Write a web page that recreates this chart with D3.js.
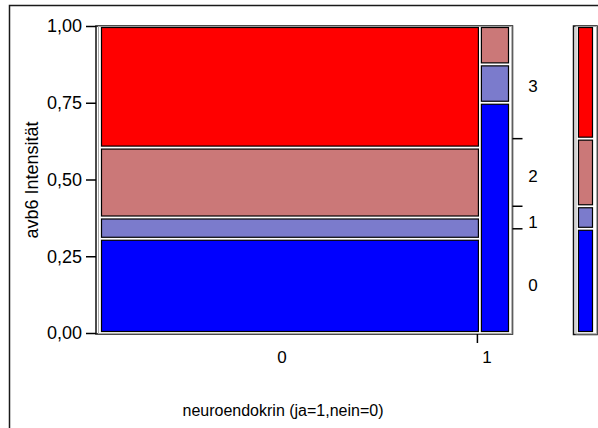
<!DOCTYPE html>
<html>
<head>
<meta charset="utf-8">
<script src="https://cdn.jsdelivr.net/npm/d3@7"></script>
<style>
  html, body { margin: 0; padding: 0; background: #fff; }
  svg { display: block; font-family: "Liberation Sans", Arial, sans-serif; }
</style>
</head>
<body>
<svg id="chart" width="598" height="428"></svg>
<script>
// Mosaic of avb6 intensity (0..3) by neuroendocrine status (0 = nein, 1 = ja)
const groups = ["0", "1"];
const levels = ["0", "1", "2", "3"];
const levelColors = ["#0000FF", "#7B7BCC", "#CB7878", "#FF0000"];
const countsGroup0 = [31, 7, 23, 40];
const countsGroup1 = [6, 1, 1, 0];
const yTicks = [0, 0.25, 0.5, 0.75, 1];
const yTickLabels = ["0,00", "0,25", "0,50", "0,75", "1,00"];
const xTitle = "neuroendokrin (ja=1,nein=0)";
const yTitle = "avb6 Intensität";

const counts = [countsGroup0, countsGroup1];
const svg = d3.select("#chart");

// page frame
svg.append("rect").attr("x", 9.5).attr("y", 5.5).attr("width", 640).attr("height", 460)
  .attr("fill", "none").attr("stroke", "#1a1a1a").attr("stroke-width", 1.5);

const plot = { left: 96, right: 512.5, top: 26, bottom: 334 };
const gap = 1.5;

const totals = counts.map(c => d3.sum(c));
const grand = d3.sum(totals);
const cumX = [0];
totals.forEach((t, i) => cumX.push(cumX[i] + t / grand));

const x = d3.scaleLinear().domain([0, 1]).range([100, 510]);
const y = d3.scaleLinear().domain([0, 1]).range([333, 26]);

// mosaic frame
svg.append("rect").attr("x", plot.left).attr("y", plot.top)
  .attr("width", plot.right - plot.left).attr("height", plot.bottom - plot.top)
  .attr("fill", "#fff").attr("stroke", "#111").attr("stroke-width", 1.5);
svg.append("rect").attr("x", plot.left + 2.5).attr("y", plot.top + 0.5)
  .attr("width", plot.right - plot.left - 3).attr("height", plot.bottom - plot.top - 1)
  .attr("fill", "none").attr("stroke", "#aaa").attr("stroke-width", 1);

// cells
const cells = [];
counts.forEach((col, gi) => {
  let acc = 0;
  col.forEach((n, li) => {
    const p = n / totals[gi];
    if (n > 0) cells.push({ gi, li, x0: cumX[gi], x1: cumX[gi + 1], y0: acc, y1: acc + p });
    acc += p;
  });
});
svg.append("g").selectAll("rect").data(cells).join("rect")
  .attr("x", d => x(d.x0) + gap)
  .attr("width", d => x(d.x1) - x(d.x0) - 2 * gap)
  .attr("y", d => y(d.y1) + gap)
  .attr("height", d => y(d.y0) - y(d.y1) - 2 * gap)
  .attr("fill", d => levelColors[d.li])
  .attr("stroke", "#000").attr("stroke-width", 1.2);

// left axis
const yAxis = d3.axisLeft(y).tickValues(yTicks).tickSize(10).tickPadding(4)
  .tickFormat((d, i) => yTickLabels[i]);
const gy = svg.append("g").attr("transform", `translate(${plot.left},0)`).call(yAxis);
gy.select(".domain").remove();
gy.selectAll(".tick line").attr("stroke", "#000").attr("stroke-width", 1.5);
gy.selectAll(".tick text").attr("font-size", 18).attr("fill", "#000")
  .attr("font-family", "Liberation Sans, Arial, sans-serif");

// bottom axis: group labels under each column
const mids = groups.map((g, i) => (cumX[i] + cumX[i + 1]) / 2);
svg.append("g").selectAll("text").data(groups).join("text")
  .attr("x", (d, i) => x(mids[i]) - 8).attr("y", 363)
  .attr("text-anchor", "middle").attr("font-size", 17).text(d => d);
svg.append("line")
  .attr("x1", x(cumX[1]) - 2.5).attr("x2", x(cumX[1]) - 2.5)
  .attr("y1", plot.bottom).attr("y2", plot.bottom + 9)
  .attr("stroke", "#000").attr("stroke-width", 1.5);

// marginal level distribution
const levelTotals = levels.map((l, li) => d3.sum(counts, c => c[li]));
const cumY = [0];
levelTotals.forEach((t, i) => cumY.push(cumY[i] + t / grand));

// right axis: boundaries and level labels
const gr = svg.append("g");
gr.selectAll("line").data(cumY.slice(1, -1)).join("line")
  .attr("x1", plot.right).attr("x2", plot.right + 10)
  .attr("y1", d => y(d)).attr("y2", d => y(d))
  .attr("stroke", "#000").attr("stroke-width", 1.5);
gr.selectAll("text").data(levels).join("text")
  .attr("x", 533).attr("y", (d, i) => y((cumY[i] + cumY[i + 1]) / 2) + 10)
  .attr("text-anchor", "middle").attr("font-size", 17).text(d => d);

// legend bar with the marginal distribution
const lg = { left: 573.5, right: 597, top: 26, bottom: 334.5 };
svg.append("rect").attr("x", lg.left).attr("y", lg.top)
  .attr("width", lg.right - lg.left).attr("height", lg.bottom - lg.top)
  .attr("fill", "#fff").attr("stroke", "#111").attr("stroke-width", 1.5);
svg.append("rect").attr("x", lg.left + 2.5).attr("y", lg.top + 0.5)
  .attr("width", lg.right - lg.left - 3).attr("height", lg.bottom - lg.top - 1)
  .attr("fill", "none").attr("stroke", "#aaa").attr("stroke-width", 1);
const lgCells = levels.map((l, i) => ({ li: i, y0: cumY[i], y1: cumY[i + 1] }));
svg.append("g").selectAll("rect").data(lgCells).join("rect")
  .attr("x", 578.5).attr("width", 14)
  .attr("y", d => y(d.y1) + gap)
  .attr("height", d => y(d.y0) - y(d.y1) - 2 * gap)
  .attr("fill", d => levelColors[d.li])
  .attr("stroke", "#000").attr("stroke-width", 1.2);

// axis titles
svg.append("text").attr("x", 283).attr("y", 416).attr("text-anchor", "middle")
  .attr("font-size", 16).text(xTitle);
svg.append("text").attr("transform", "translate(38,180) rotate(-90)")
  .attr("text-anchor", "middle").attr("font-size", 18).text(yTitle);
</script>
</body>
</html>
